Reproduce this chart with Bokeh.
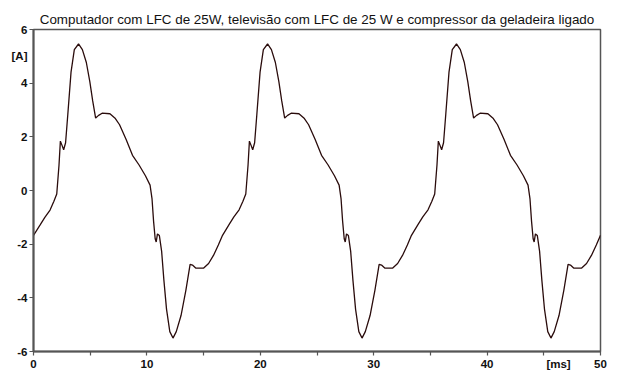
from bokeh.plotting import figure
from bokeh.models import FixedTicker, Range1d
from bokeh.embed import file_html
from bokeh.resources import INLINE

title_text = "Computador com LFC de 25W, televisão com LFC de 25 W e compressor da geladeira ligado"

# time [ms] and current [A]
t_ms = [
    0.00, 0.60, 1.00, 1.46, 1.80, 2.05, 2.25, 2.37, 2.50, 2.66, 2.83, 3.03, 3.31, 3.60, 3.97,
    4.31, 4.66, 4.97, 5.22, 5.48, 5.74, 6.05, 6.74, 7.22, 7.59, 8.16, 8.73, 9.31, 9.87, 10.28,
    10.45, 10.59, 10.73, 10.82, 10.93, 11.10, 11.30, 11.50, 11.73, 12.02, 12.30, 12.59, 13.01,
    13.44, 13.81, 14.02, 14.30, 15.01, 15.44, 15.87, 16.30,
    16.67, 17.27, 17.67, 18.13, 18.47, 18.72, 18.92, 19.04, 19.17, 19.33, 19.50, 19.70, 19.98,
    20.27, 20.64, 20.98, 21.33, 21.64, 21.89, 22.15, 22.41, 22.72, 23.41, 23.89, 24.26, 24.83,
    25.40, 25.98, 26.54, 26.95, 27.12, 27.26, 27.40, 27.49, 27.60, 27.77, 27.97, 28.17, 28.40,
    28.69, 28.97, 29.26, 29.68, 30.11, 30.48, 30.69, 30.97, 31.68, 32.11, 32.54, 32.97,
    33.33, 33.93, 34.33, 34.79, 35.13, 35.38, 35.58, 35.70, 35.83, 35.99, 36.16, 36.36, 36.64,
    36.93, 37.30, 37.64, 37.99, 38.30, 38.55, 38.81, 39.07, 39.38, 40.07, 40.55, 40.92, 41.49,
    42.06, 42.64, 43.20, 43.61, 43.78, 43.92, 44.06, 44.15, 44.26, 44.43, 44.63, 44.83, 45.06,
    45.35, 45.63, 45.92, 46.34, 46.77, 47.14, 47.35, 47.63, 48.34, 48.77, 49.20, 49.63, 50.00,
]
i_a = [
    -1.67, -1.27, -1.00, -0.73, -0.40, -0.13, 0.95, 1.84, 1.70, 1.52, 1.78, 2.86, 4.41, 5.25, 5.46,
    5.25, 4.77, 4.05, 3.34, 2.70, 2.80, 2.88, 2.86, 2.68, 2.45, 1.91, 1.31, 0.95, 0.55, 0.20,
    -0.30, -1.15, -1.80, -1.92, -1.62, -1.68, -2.27, -3.35, -4.42, -5.26, -5.50, -5.26, -4.66,
    -3.71, -2.75, -2.78, -2.89, -2.89, -2.72, -2.42, -2.03,
    -1.67, -1.25, -0.98, -0.72, -0.40, -0.13, 0.95, 1.84, 1.70, 1.52, 1.78, 2.86, 4.41,
    5.25, 5.46, 5.25, 4.77, 4.05, 3.34, 2.70, 2.80, 2.88, 2.86, 2.68, 2.45, 1.91,
    1.31, 0.95, 0.55, 0.20, -0.30, -1.15, -1.80, -1.92, -1.62, -1.68, -2.27, -3.35, -4.42,
    -5.26, -5.50, -5.26, -4.66, -3.71, -2.75, -2.78, -2.89, -2.89, -2.72, -2.42, -2.03,
    -1.67, -1.25, -0.98, -0.72, -0.40, -0.13, 0.95, 1.84, 1.70, 1.52, 1.78, 2.86, 4.41,
    5.25, 5.46, 5.25, 4.77, 4.05, 3.34, 2.70, 2.80, 2.88, 2.86, 2.68, 2.45, 1.91,
    1.31, 0.95, 0.55, 0.20, -0.30, -1.15, -1.80, -1.92, -1.62, -1.68, -2.27, -3.35, -4.42,
    -5.26, -5.50, -5.26, -4.66, -3.71, -2.75, -2.78, -2.89, -2.89, -2.72, -2.42, -2.03, -1.67,
]

# tick marks
x_tick_marks = [0, 5, 10, 15, 20, 25, 30, 35, 40, 45, 50]
y_tick_marks = [-6, -4, -2, 0, 2, 4, 6]
# tick labels (units take the place of one label on each axis)
x_label_pos = [0, 10, 20, 30, 40, 46.3, 50]
x_label_txt = {0: "0", 10: "10", 20: "20", 30: "30", 40: "40", 46.3: "[ms]", 50: "50"}
y_label_pos = [-6, -4, -2, 0, 2, 4, 5, 6]
y_label_txt = {-6: "-6", -4: "-4", -2: "-2", 0: "0", 2: "2", 4: "4", 5: "[A]", 6: "6"}

p = figure(width=607, height=372, output_backend="svg", toolbar_location=None,
           x_range=Range1d(0, 50), y_range=Range1d(-6, 6),
           min_border_left=33, min_border_right=7, min_border_top=29, min_border_bottom=19)

p.title.text = title_text
p.title.align = "center"
p.title.vertical_align = "top"
p.title.text_font = "Liberation Sans"
p.title.text_font_size = "13.4px"
p.title.text_font_style = "normal"
p.title.text_color = "#111111"
p.title.standoff = 2
p.title.offset = 0

p.grid.visible = False
p.outline_line_color = "#555555"
p.outline_line_width = 1.5
p.background_fill_color = "white"
p.border_fill_color = "white"

for ax in (p.xaxis[0], p.yaxis[0]):
    ax.axis_line_color = "#555555"
    ax.axis_line_width = 2
    ax.major_tick_line_color = None
    ax.minor_tick_line_color = "#555555"
    ax.minor_tick_line_width = 1.2
    ax.minor_tick_out = 4
    ax.minor_tick_in = 0
    ax.major_tick_out = 4
    ax.major_tick_in = 0
    ax.major_label_text_font = "Liberation Sans"
    ax.major_label_text_font_size = "11.5px"
    ax.major_label_text_font_style = "bold"
    ax.major_label_text_color = "#111111"
    ax.major_label_standoff = 2

p.xaxis.ticker = FixedTicker(ticks=x_label_pos, minor_ticks=x_tick_marks)
p.xaxis.major_label_overrides = x_label_txt
p.yaxis.ticker = FixedTicker(ticks=y_label_pos, minor_ticks=y_tick_marks)
p.yaxis.major_label_overrides = y_label_txt

p.line(t_ms, i_a, line_color="#2a0c0c", line_width=1.3)

open("out.html", "w").write(file_html(p, INLINE))
